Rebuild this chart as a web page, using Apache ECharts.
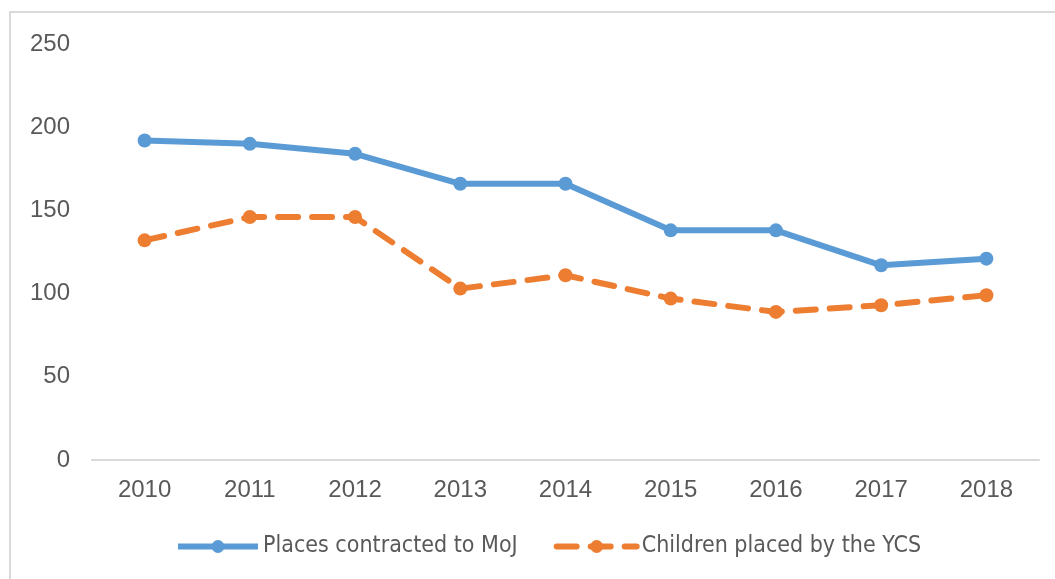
<!DOCTYPE html>
<html>
<head>
<meta charset="utf-8">
<script src="https://cdn.jsdelivr.net/npm/echarts@6/dist/echarts.min.js"></script>
<style>
  html, body { margin: 0; padding: 0; background: #fff; }
  #main { width: 1055px; height: 579px; }
</style>
</head>
<body>
<div id="main"></div>
<script>
// données
var years = ['2010', '2011', '2012', '2013', '2014', '2015', '2016', '2017', '2018'];
var placesMoJ = [192, 190, 184, 166, 166, 138, 138, 117, 121];
var childrenYCS = [132, 146, 146, 103, 111, 97, 89, 93, 99];
var yTicks = { min: 0, max: 250, interval: 50 };

var myChart = echarts.init(document.getElementById('main'));

var option = {
	animation: false,
	graphic: [{
		type: 'rect',
		shape: { x: 10, y: 12, width: 1060, height: 580 },
		style: { fill: 'none', stroke: '#d9d9d9', lineWidth: 2 },
		silent: true
	}],
	grid: { left: 92, right: 16, top: 44, bottom: 119 },
	legend: {
		bottom: 16,
		left: 170,
		itemWidth: 80,
		itemHeight: 16,
		itemGap: 36,
		lineStyle: { width: 6 },
		textStyle: { fontFamily: 'Liberation Sans Narrow, DejaVu Sans Condensed, sans-serif', fontSize: 23, color: '#595959' },
		data: ['Places contracted to MoJ', 'Children placed by the YCS']
	},
	xAxis: {
		type: 'category',
		data: years,
		axisLine: { lineStyle: { color: '#d9d9d9', width: 2 } },
		axisTick: { show: false },
		axisLabel: { fontFamily: 'Liberation Sans, Arial, sans-serif', fontSize: 24, color: '#595959', margin: 18 }
	},
	yAxis: {
		type: 'value',
		min: yTicks.min,
		max: yTicks.max,
		interval: yTicks.interval,
		splitLine: { show: false },
		axisLine: { show: false },
		axisTick: { show: false },
		axisLabel: { fontFamily: 'Liberation Sans, Arial, sans-serif', fontSize: 24, color: '#595959', margin: 22 }
	},
	series: [{
		name: 'Places contracted to MoJ',
		type: 'line',
		data: placesMoJ,
		symbol: 'circle',
		symbolSize: 14,
		itemStyle: { color: '#5b9bd5' },
		lineStyle: { color: '#5b9bd5', width: 6 }
	}, {
		name: 'Children placed by the YCS',
		type: 'line',
		data: childrenYCS,
		symbol: 'circle',
		symbolSize: 14,
		itemStyle: { color: '#ed7d31' },
		lineStyle: { color: '#ed7d31', width: 6, type: [20, 14], cap: 'round' }
	}]
};

myChart.setOption(option);
</script>
</body>
</html>
